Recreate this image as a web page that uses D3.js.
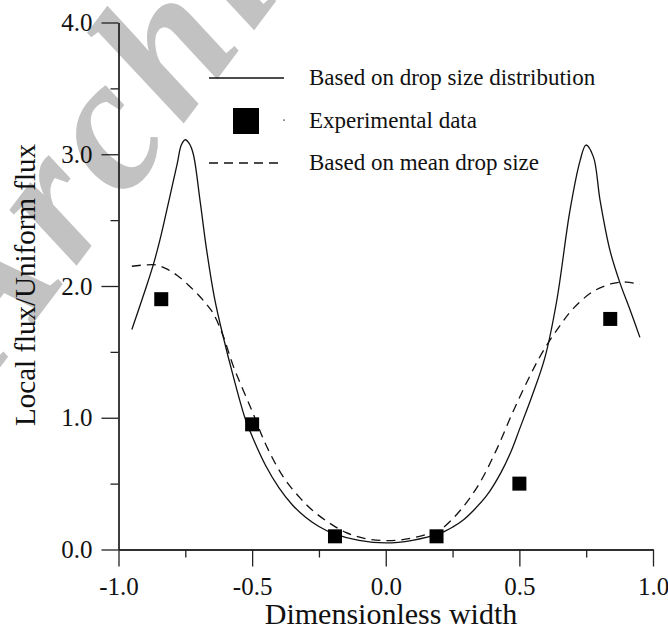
<!DOCTYPE html>
<html lang="en">
<head>
    <meta charset="UTF-8">
    <title>Local flux</title>
    <script src="https://cdn.jsdelivr.net/npm/d3@7/dist/d3.min.js"></script>
    <style>
        body { margin: 0; background: #fff; }
        svg { display: block; font-family: "Liberation Serif", "Times New Roman", serif; }
        .axis path, .axis line { stroke: #222; stroke-width: 1.3; }
        .axis text { font-size: 25px; fill: #111; font-family: "Liberation Serif", "Times New Roman", serif; }
    </style>
</head>
<body>
<svg width="668" height="629"></svg>

<script>
    // values
    var solidX = [-0.95, -0.90, -0.87, -0.845, -0.81, -0.78, -0.765, -0.75, -0.735, -0.72, -0.695, -0.67, -0.64, -0.61, -0.57, -0.527, -0.50, -0.45, -0.40, -0.35, -0.30, -0.25, -0.20, -0.10, 0, 0.10, 0.20, 0.25, 0.29, 0.33, 0.378, 0.43, 0.47, 0.50, 0.55, 0.596, 0.64, 0.689, 0.727, 0.749, 0.777, 0.802, 0.839, 0.877, 0.914, 0.951];
    var solidY = [1.67, 1.97, 2.16, 2.35, 2.66, 2.93, 3.07, 3.11, 3.08, 3.00, 2.65, 2.27, 1.90, 1.63, 1.31, 1.0, 0.86, 0.64, 0.47, 0.34, 0.245, 0.175, 0.125, 0.07, 0.05, 0.07, 0.12, 0.17, 0.224, 0.30, 0.41, 0.58, 0.75, 0.91, 1.18, 1.46, 1.89, 2.57, 2.95, 3.07, 2.98, 2.65, 2.27, 2.02, 1.82, 1.61];

    var dashX = [-0.95, -0.90, -0.86, -0.82, -0.78, -0.74, -0.70, -0.67, -0.645, -0.61, -0.57, -0.50, -0.445, -0.38, -0.32, -0.27, -0.21, -0.15, -0.08, 0, 0.08, 0.166, 0.21, 0.28, 0.35, 0.415, 0.477, 0.54, 0.59, 0.652, 0.702, 0.777, 0.85, 0.90, 0.951];
    var dashY = [2.15, 2.16, 2.16, 2.13, 2.08, 2.01, 1.93, 1.86, 1.79, 1.63, 1.39, 1.05, 0.78, 0.54, 0.39, 0.29, 0.20, 0.13, 0.085, 0.067, 0.08, 0.123, 0.16, 0.30, 0.50, 0.76, 1.05, 1.32, 1.51, 1.70, 1.83, 1.96, 2.02, 2.03, 2.01];

    var expX = [-0.84, -0.50, -0.19, 0.19, 0.50, 0.84];
    var expY = [1.90, 0.95, 0.10, 0.10, 0.50, 1.75];

    var xTicks = [-1, -0.5, 0, 0.5, 1];
    var xMinor = [-0.75, -0.25, 0.25, 0.75];
    var yTicks = [0, 1, 2, 3, 4];
    var yMinor = [0.5, 1.5, 2.5, 3.5];

    var legendLabels = ["Based on drop size distribution", "Experimental data", "Based on mean drop size"];

    var svg = d3.select("svg");

    var x = d3.scaleLinear().domain([-1, 1]).range([118.5, 653]);
    var y = d3.scaleLinear().domain([0, 4]).range([549.5, 22.5]);

    // watermark behind everything
    svg.append("text")
        .attr("transform", "translate(-8,378) rotate(-53)")
        .attr("font-size", 190)
        .attr("font-weight", "bold")
        .attr("font-style", "italic")
        .attr("letter-spacing", 10)
        .attr("fill", "#c2c2c2")
        .text("Archive");

    // minor ticks first, then major axes on top
    svg.append("g").attr("class", "axis")
        .attr("transform", "translate(0," + y(0) + ")")
        .call(d3.axisBottom(x).tickValues(xMinor).tickSize(8).tickSizeOuter(0).tickFormat(""));
    svg.append("g").attr("class", "axis")
        .attr("transform", "translate(" + x(-1) + ",0)")
        .call(d3.axisLeft(y).tickValues(yMinor).tickSize(8).tickSizeOuter(0).tickFormat(""));

    var xAxis = svg.append("g").attr("class", "axis")
        .attr("transform", "translate(0," + y(0) + ")")
        .call(d3.axisBottom(x).tickValues(xTicks).tickSize(17).tickSizeOuter(0).tickFormat(d3.format(".1f")));
    xAxis.selectAll("text").attr("y", 45).attr("dy", 0);

    var yAxis = svg.append("g").attr("class", "axis")
        .attr("transform", "translate(" + x(-1) + ",0)")
        .call(d3.axisLeft(y).tickValues(yTicks).tickSize(17).tickSizeOuter(0).tickFormat(d3.format(".1f")));
    yAxis.selectAll("text").attr("x", -26).attr("dy", "0.32em");

    // hyphen as the minus sign, like the original
    svg.selectAll(".axis text").text(function () {
        return d3.select(this).text().replace("\u2212", "-");
    });

    // axis titles
    svg.append("text")
        .attr("x", 391).attr("y", 624)
        .attr("text-anchor", "middle")
        .attr("font-size", 30)
        .attr("fill", "#111")
        .text("Dimensionless width");

    svg.append("text")
        .attr("transform", "translate(35,285) rotate(-90)")
        .attr("text-anchor", "middle")
        .attr("font-size", 29)
        .attr("fill", "#111")
        .text("Local flux/Uniform flux");

    // curves
    var line = d3.line()
        .x(function (d) { return x(d[0]); })
        .y(function (d) { return y(d[1]); })
        .curve(d3.curveCatmullRom.alpha(0.5));

    svg.append("path")
        .datum(d3.zip(solidX, solidY))
        .attr("fill", "none")
        .attr("stroke", "#111")
        .attr("stroke-width", 1.3)
        .attr("d", line);

    svg.append("path")
        .datum(d3.zip(dashX, dashY))
        .attr("fill", "none")
        .attr("stroke", "#111")
        .attr("stroke-width", 1.3)
        .attr("stroke-dasharray", "9,6")
        .attr("d", line);

    // experimental points
    var s = 14;
    svg.append("g").selectAll("rect")
        .data(d3.zip(expX, expY))
        .enter()
        .append("rect")
        .attr("x", function (d) { return x(d[0]) - s / 2; })
        .attr("y", function (d) { return y(d[1]) - s / 2; })
        .attr("width", s)
        .attr("height", s)
        .attr("fill", "#000");

    // legend
    var legend = svg.append("g");
    legend.append("line")
        .attr("x1", 209).attr("x2", 284).attr("y1", 78).attr("y2", 78)
        .attr("stroke", "#111").attr("stroke-width", 1.3);
    legend.append("rect")
        .attr("x", 233).attr("y", 108).attr("width", 26).attr("height", 26)
        .attr("fill", "#000");
    legend.append("rect")
        .attr("x", 283.5).attr("y", 119.5).attr("width", 1.2).attr("height", 1.2)
        .attr("fill", "#000");
    legend.append("line")
        .attr("x1", 209).attr("x2", 284).attr("y1", 163).attr("y2", 163)
        .attr("stroke", "#111").attr("stroke-width", 1.3)
        .attr("stroke-dasharray", "9,6");

    legend.selectAll("text")
        .data(legendLabels)
        .enter()
        .append("text")
        .attr("x", 309)
        .attr("y", function (d, i) { return [85, 128, 170][i]; })
        .attr("font-size", 23)
        .attr("fill", "#111")
        .text(function (d) { return d; });
</script>
</body>
</html>
